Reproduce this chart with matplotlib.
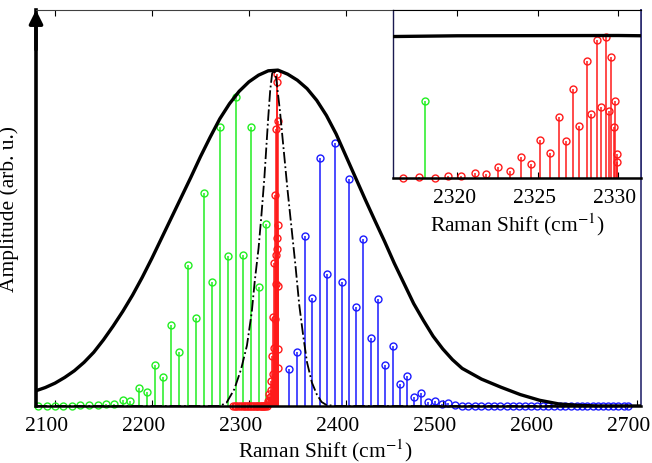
import numpy as np
import matplotlib.pyplot as plt
from matplotlib.transforms import ScaledTranslation

plt.rcParams['font.family'] = ['Liberation Serif', 'DejaVu Serif']
plt.rcParams['mathtext.fontset'] = 'stix'

# --- O-branch lines (green) ---
green_x = [2082.8, 2091.4, 2100.0, 2108.6, 2117.2, 2125.8, 2135.4, 2144.0, 2152.6, 2161.2,
           2169.8, 2177.4, 2186.6, 2194.6, 2203.1, 2211.7, 2219.6, 2228.2, 2237.2, 2245.1,
           2253.4, 2261.6, 2269.9, 2278.1, 2286.4, 2294.2, 2302.2, 2310.1, 2318.0]
green_y = [0.001, 0.001, 0.001, 0.001, 0.001, 0.002, 0.003, 0.004, 0.007, 0.007,
           0.019, 0.016, 0.054, 0.041, 0.123, 0.086, 0.242, 0.160, 0.420, 0.263,
           0.635, 0.370, 0.830, 0.446, 0.920, 0.450, 0.830, 0.355, 0.541]

# --- Q-branch lines (red) ---
red_x = [2283.2, 2285.2, 2287.2, 2289.1, 2291.0, 2292.8, 2294.6, 2296.3, 2298.0, 2299.6,
         2301.2, 2302.7, 2304.2, 2305.6, 2307.0, 2308.4, 2309.7, 2311.0, 2312.2, 2313.4,
         2314.5, 2315.6, 2316.65, 2317.6, 2318.6, 2319.45, 2320.25, 2321.1, 2321.8, 2322.55,
         2323.3, 2323.95, 2324.6, 2325.15, 2325.75, 2326.3, 2326.77, 2327.2, 2327.6, 2328.04,
         2328.33, 2328.67, 2328.94, 2329.23, 2329.42, 2329.56, 2329.75, 2329.84, 2329.92, 2329.96]
red_y = [0.0, 0.0, 0.0, 0.0, 0.0, 0.0, 0.0, 0.0, 0.0, 0.0,
         0.0, 0.0, 0.0, 0.0, 0.0, 0.0, 0.0, 0.0, 0.0, 0.0,
         0.0, 0.0, 0.0, 0.004, 0.0, 0.014, 0.012, 0.035, 0.026, 0.075,
         0.049, 0.148, 0.096, 0.266, 0.172, 0.426, 0.259, 0.628, 0.362, 0.824,
         0.449, 0.965, 0.499, 0.989, 0.468, 0.850, 0.357, 0.539, 0.169, 0.113]

# --- S-branch lines (blue) ---
blue_x = [2341.3, 2349.6, 2357.6, 2365.4, 2373.0, 2380.6, 2388.5, 2396.0, 2403.3, 2410.8,
          2418.0, 2426.0, 2433.2, 2440.7, 2448.3, 2455.5, 2463.1, 2470.3, 2477.5, 2484.4,
          2491.6, 2498.9, 2505.9, 2512.8, 2519.7, 2526.5, 2533.2, 2539.9, 2546.5, 2553.0,
          2559.5, 2565.9, 2572.2, 2578.5, 2584.7, 2590.9, 2597.0, 2603.0, 2609.0, 2614.9,
          2620.8, 2626.6, 2632.3, 2638.0, 2643.6, 2649.2, 2654.7, 2660.1, 2665.5, 2670.8,
          2676.1, 2681.3, 2686.5, 2691.6]
blue_y = [0.110, 0.160, 0.505, 0.322, 0.739, 0.392, 0.782, 0.370, 0.676, 0.296,
          0.497, 0.201, 0.318, 0.121, 0.179, 0.065, 0.090, 0.028, 0.039, 0.013,
          0.016, 0.006, 0.008, 0.002, 0.001, 0.0, 0.0, 0.0, 0.0, 0.0,
          0.0, 0.0, 0.0, 0.0, 0.0, 0.0, 0.0, 0.0, 0.0, 0.0,
          0.0, 0.0, 0.0, 0.0, 0.0, 0.0, 0.0, 0.0, 0.0, 0.0,
          0.0, 0.0, 0.0, 0.0]

# --- broad envelope (solid black) ---
env_x = [2080, 2090, 2100, 2110, 2120, 2130, 2140, 2150, 2160, 2170, 2180, 2190, 2200, 2210,
         2220, 2230, 2240, 2250, 2260, 2270, 2280, 2290, 2300, 2310, 2320, 2330, 2340, 2350,
         2360, 2370, 2380, 2390, 2400, 2410, 2420, 2430, 2440, 2450, 2460, 2470, 2480, 2490,
         2500, 2510, 2520, 2540, 2560, 2580, 2600, 2620, 2640, 2660, 2680, 2704]
env_y = [0.045, 0.055, 0.068, 0.085, 0.105, 0.130, 0.160, 0.197, 0.238, 0.282, 0.330, 0.383, 0.440, 0.500,
         0.560, 0.620, 0.680, 0.742, 0.800, 0.855, 0.900, 0.937, 0.965, 0.985, 0.998, 1.000, 0.988, 0.970,
         0.945, 0.910, 0.865, 0.810, 0.745, 0.680, 0.615, 0.552, 0.490, 0.425, 0.365, 0.305, 0.255, 0.208,
         0.170, 0.138, 0.112, 0.080, 0.056, 0.034, 0.017, 0.006, 0.002, 0.0, 0.0, 0.0]

# --- narrow profile (dash-dot) ---
nar_x = [2080, 2270, 2277, 2285, 2292, 2298, 2303, 2306, 2310, 2313, 2316, 2318, 2320, 2322,
         2324, 2326, 2328, 2332, 2336, 2340, 2344, 2348, 2352, 2356, 2360, 2365, 2370, 2375,
         2380, 2390, 2704]
nar_y = [0.0, 0.0, 0.01, 0.05, 0.11, 0.18, 0.28, 0.37, 0.47, 0.57, 0.68, 0.77, 0.86, 0.94,
         0.99, 1.0, 0.98, 0.88, 0.76, 0.64, 0.53, 0.42, 0.30, 0.21, 0.13, 0.07, 0.035, 0.012,
         0.003, 0.0, 0.0]

main_ticks = [2100, 2200, 2300, 2400, 2500, 2600, 2700]
inset_ticks = [2320, 2325, 2330]

W, H = 652, 464
fig = plt.figure(figsize=(W / 100, H / 100), dpi=100)
ax = fig.add_axes([36 / W, 1 - 407 / H, (640.5 - 36) / W, (407 - 11) / H])


def draw_stems(a, x, y, color, xlim=None):
    x = np.asarray(x)
    y = np.asarray(y)
    if xlim is not None:
        keep = (x >= xlim[0]) & (x <= xlim[1])
        x, y = x[keep], y[keep]
    ml, sl, bl = a.stem(x, y, linefmt='-', markerfmt='o', basefmt=' ')
    sl.set_color(color)
    sl.set_linewidth(1.1)
    sl.set_clip_on(False)
    ml.set_color(color)
    ml.set_markerfacecolor('none')
    ml.set_markersize(5)
    ml.set_markeredgewidth(1.0)
    ml.set_clip_on(False)
    bl.set_visible(False)


draw_stems(ax, green_x, green_y, '#22ee22')
draw_stems(ax, blue_x, blue_y, '#1a1aff')
draw_stems(ax, red_x, red_y, '#ff1a1a')
ax.plot(nar_x, nar_y, color='black', linestyle='-.', linewidth=1.3, zorder=3)
ax.plot(env_x, env_y, color='black', linewidth=2.4, zorder=4)

ax.set_xlim(2080.4, 2704)
ax.set_ylim(0, 1.179)
ax.set_xticks(main_ticks)
ax.set_yticks([])
ax.tick_params(axis='x', direction='in', length=4, width=0.8, top=True, labelsize=15.5, pad=7)
ax.spines['left'].set_linewidth(2.6)
ax.spines['bottom'].set_linewidth(1.8)
ax.spines['top'].set_linewidth(0.8)
ax.spines['top'].set_color('#404040')
ax.spines['right'].set_linewidth(1.2)
ax.spines['right'].set_color('#2b2b70')
ax.annotate('', xy=(0, 1.0), xytext=(0, 0.9), xycoords='axes fraction',
            arrowprops=dict(arrowstyle='-|>', color='black', lw=2.6, mutation_scale=20,
                            shrinkA=0, shrinkB=0))

shift = ScaledTranslation(-8 / 100, 0, fig.dpi_scale_trans)
for lbl in ax.get_xticklabels():
    lbl.set_transform(lbl.get_transform() + shift)

ax.set_xlabel(r'Raman Shift (cm$^{-1}$)', fontsize=15.5)
ax.xaxis.set_label_coords(0.479, -0.078)
ax.set_ylabel('Amplitude (arb. u.)', fontsize=15.5)
ax.yaxis.set_label_coords(-0.028, 0.5)

# --- inset zoom on the Q-branch ---
ins_lim = (2316.0, 2331.4)
axi = fig.add_axes([393 / W, 1 - 179 / H, (640.5 - 393) / W, (179 - 11) / H])
axi.set_zorder(5)
draw_stems(axi, green_x, green_y, '#22ee22', ins_lim)
draw_stems(axi, red_x, red_y, '#ff1a1a', ins_lim)
axi.plot(env_x, env_y, color='black', linewidth=2.4, zorder=4)
axi.set_xlim(*ins_lim)
axi.set_ylim(0, 1.179)
axi.set_xticks(inset_ticks)
axi.set_yticks([])
axi.tick_params(axis='x', direction='in', length=4, width=0.8, top=True, labelsize=15.5, pad=7)
axi.spines['bottom'].set_linewidth(1.8)
axi.spines['left'].set_linewidth(1.0)
axi.spines['left'].set_color('#1a1a50')
axi.spines['top'].set_linewidth(0.8)
axi.spines['right'].set_linewidth(1.2)
axi.spines['right'].set_color('#2b2b70')
shift_i = ScaledTranslation(-3 / 100, 0, fig.dpi_scale_trans)
for lbl in axi.get_xticklabels():
    lbl.set_transform(lbl.get_transform() + shift_i)
axi.set_xlabel(r'Raman Shift (cm$^{-1}$)', fontsize=15.5, labelpad=3)

fig.savefig('out.png', dpi=100)
